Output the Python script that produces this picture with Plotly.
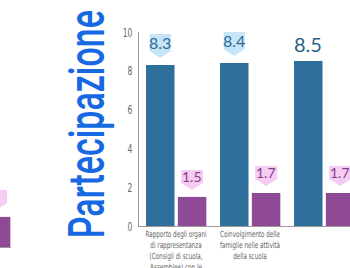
import plotly.graph_objects as go

# ---------------- data ----------------
categories = [
    "Rapporto degli organi<br>di rappresentanza<br>(Consigli di scuola,<br>Assemblee) con le<br>famiglie",
    "Coinvolgimento delle<br>famiglie nelle attività<br>della scuola",
    "Quanto è soddisfatto<br>nell'insieme della<br>partecipazione alla<br>scuola?",
]
blue_values = [8.3, 8.4, 8.5]
purple_values = [1.5, 1.7, 1.7]
y_ticks = [0, 2, 4, 6, 8, 10]
title_text = "Partecipazione"
prev_chart_purple = [1.4]   # fragment of the neighbouring chart, cropped at the left edge

# ---------------- styles ----------------
W, H = 350, 268
BLUE = "#2e6f9c"
PURPLE = "#8e4a95"
BLUE_BOX = "#c6e5f7"
PINK_BOX = "#f5cdf3"
BLUE_TXT = "#2b6a97"
PURPLE_TXT = "#8a3d8e"
blue_has_box = [True, True, False]

BAR_W = 0.385
BLUE_OFF = -0.405
PURPLE_OFF = 0.025

idx = list(range(len(categories)))

fig = go.Figure()
fig.add_trace(go.Bar(x=idx, y=blue_values, width=BAR_W, offset=BLUE_OFF,
                     marker=dict(color=BLUE, line=dict(width=0)), xaxis="x", yaxis="y",
                     hoverinfo="skip"))
fig.add_trace(go.Bar(x=idx, y=purple_values, width=BAR_W, offset=PURPLE_OFF,
                     marker=dict(color=PURPLE, line=dict(width=0)), xaxis="x", yaxis="y",
                     hoverinfo="skip"))
fig.add_trace(go.Bar(x=[0], y=prev_chart_purple, width=BAR_W, offset=PURPLE_OFF,
                     marker=dict(color=PURPLE, line=dict(width=0)), xaxis="x2", yaxis="y2",
                     hoverinfo="skip"))


def callout(xc, val, hw, top, color, xref, yref):
    path = (f"M {-hw},{top} L {hw},{top} L {hw},14 L 0,7 L {-hw},14 Z")
    fig.add_shape(type="path", path=path, xref=xref, yref=yref,
                  xsizemode="pixel", ysizemode="pixel", xanchor=xc, yanchor=val,
                  fillcolor=color, line=dict(width=0), layer="above")


for i, v in enumerate(blue_values):
    xc = i + BLUE_OFF + BAR_W / 2
    if blue_has_box[i]:
        callout(xc, v, 10.5, 31, BLUE_BOX, "x", "y")
        fig.add_annotation(x=xc, y=v, xref="x", yref="y", text=f"{v:.1f}", showarrow=False,
                           yanchor="middle", yshift=22.5,
                           font=dict(family="Lato, Open Sans", size=16, color=BLUE_TXT))
    else:
        fig.add_annotation(x=xc, y=v, xref="x", yref="y", text=f"{v:.1f}", showarrow=False,
                           yanchor="middle", yshift=17,
                           font=dict(family="Lato, Open Sans", size=20, color="#2a5f86"))

for i, v in enumerate(purple_values):
    xc = i + PURPLE_OFF + BAR_W / 2
    callout(xc, v, 11, 27, PINK_BOX, "x", "y")
    fig.add_annotation(x=xc, y=v, xref="x", yref="y", text=f"{v:.1f}", showarrow=False,
                       yanchor="middle", yshift=20.5,
                       font=dict(family="Lato, Open Sans", size=14, color=PURPLE_TXT))

for v in prev_chart_purple:
    callout(PURPLE_OFF + BAR_W / 2, v, 11, 27, PINK_BOX, "x2", "y2")

fig.add_annotation(x=87 / W, y=144 / H, xref="paper", yref="paper", text=title_text,
                   textangle=-90, showarrow=False, xanchor="center", yanchor="middle",
                   font=dict(family="Roboto", size=50, color="#1669e2", weight=500))

y_dom = [42 / H, 236 / H]
fig.update_layout(
    width=W, height=H,
    margin=dict(l=0, r=0, t=0, b=0, autoexpand=False),
    paper_bgcolor="white", plot_bgcolor="white",
    showlegend=False,
    barmode="overlay",
    xaxis=dict(domain=[139 / W, 1], range=[-0.5, -0.5 + 211 / 74],
               tickvals=idx, ticktext=categories, ticks="", tickangle=0, automargin=False,
               tickfont=dict(family="Liberation Sans Narrow, DejaVu Sans Condensed", size=8.5,
                             color="#666666"),
               showline=True, linecolor="#9a9a9a", linewidth=1, showgrid=False,
               zeroline=False, fixedrange=True),
    yaxis=dict(domain=y_dom, range=[0, 10], tickvals=y_ticks, ticks="", automargin=False,
               ticklabelstandoff=3,
               tickfont=dict(family="Liberation Sans Narrow, DejaVu Sans Condensed", size=13,
                             color="#666666"),
               showline=True, linecolor="#9a9a9a", linewidth=1, showgrid=False,
               zeroline=False, fixedrange=True),
    xaxis2=dict(domain=[0, 11 / W], range=[0.405 - 10 / 74, 0.405 + 1 / 74],
                showticklabels=False, ticks="", showline=True, linecolor="#9a9a9a",
                showgrid=False, zeroline=False, anchor="y2", fixedrange=True, automargin=False),
    yaxis2=dict(domain=[21 / H, 236 / H], range=[0, 10], showticklabels=False,
                showline=False, showgrid=False, zeroline=False, anchor="x2", fixedrange=True,
                automargin=False),
)

post = """
document.body.style.margin = '0';
document.body.style.padding = '0';
var gd = document.getElementById('{plot_id}');
function fix(){
  gd.querySelectorAll('g.subplot.xy .xtick text, g.subplot.xy .ytick text').forEach(function(el){
    var cur = el.getAttribute('transform') || '';
    if (el.getAttribute('data-c') === cur) return;
    var x = parseFloat(el.getAttribute('x') || 0);
    var s = el.closest('.xtick') ? 0.74 : 0.65;
    var t = cur + ' translate(' + x + ',0) scale(' + s + ',1) translate(' + (-x) + ',0)';
    el.setAttribute('transform', t);
    el.setAttribute('data-c', t);
  });
  gd.querySelectorAll('.annotation-text').forEach(function(el){
    if (el.textContent === 'Partecipazione') {
      el.setAttribute('textLength', '228');
      el.setAttribute('lengthAdjust', 'spacingAndGlyphs');
    }
  });
}
fix();
setTimeout(fix, 50);
setTimeout(fix, 300);
"""

fig.write_html("out.html", post_script=post, config={"displayModeBar": False})
